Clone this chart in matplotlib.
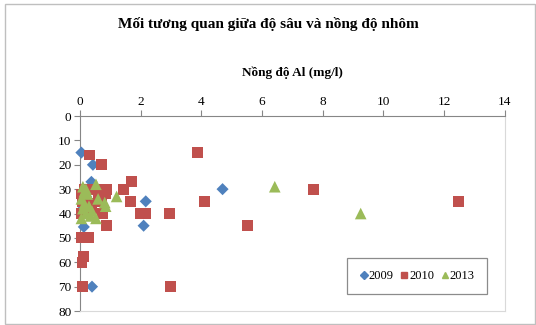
import matplotlib.pyplot as plt
from matplotlib.lines import Line2D

# Al concentration (mg/l) vs depth, three sampling years
al_2009 = [0.05, 0.43, 0.38, 0.13, 2.17, 2.1, 4.7, 0.4, 0.2, 0.1]
depth_2009 = [15, 20, 27, 45.5, 35, 45, 30, 70, 33, 38]

al_2010 = [0.33, 0.72, 1.71, 1.45, 1.68, 1.98, 2.17, 2.96, 3.88, 4.12,
           5.53, 7.68, 12.47, 0.88, 0.76, 0.88, 0.85, 0.05, 0.27, 0.13,
           0.07, 0.1, 2.98, 0.16, 0.05, 0.1, 0.2, 0.05, 0.5, 0.6,
           0.7, 0.4, 0.3]
depth_2010 = [16, 20, 27, 30, 35, 40, 40, 40, 15, 35,
              45, 30, 35, 45, 40, 30, 32, 50, 50, 57.5,
              60, 70, 70, 30, 32, 35, 38, 40, 30, 33,
              35, 38, 36]

al_2013 = [0.1, 0.2, 0.25, 0.05, 0.15, 0.3, 0.1, 0.2, 0.35, 0.05,
           0.53, 0.82, 0.85, 0.53, 1.21, 6.42, 9.25, 0.6, 0.4, 0.15]
depth_2013 = [29, 30, 32, 34, 36, 37, 38, 40, 41, 42,
              28, 35.5, 37, 42, 33, 29, 40, 34, 39, 31]

years = ['2009', '2010', '2013']
colors = ['#4F81BD', '#C0504D', '#9BBB59']
markers = ['D', 's', '^']
sizes = [38, 62, 70]

plt.rcParams['font.family'] = ['Liberation Serif', 'DejaVu Serif']

fig = plt.figure(figsize=(5.36, 3.25), dpi=100)
ax = fig.add_axes([0.149, 0.043, 0.793, 0.600])

series = [(al_2009, depth_2009), (al_2010, depth_2010), (al_2013, depth_2013)]
for (x, y), c, m, s in zip(series, colors, markers, sizes):
    ax.scatter(x, y, marker=m, s=s, color=c, edgecolors='none', zorder=3,
               clip_on=False)

ax.set_xlim(0, 14)
ax.set_ylim(80, 0)
ax.set_xticks(range(0, 15, 2))
ax.set_yticks(range(0, 81, 10))
ax.xaxis.tick_top()
ax.xaxis.set_label_position('top')
ax.tick_params(axis='both', labelsize=9.5, direction='out', length=4,
               color='#868686', pad=2)

for side in ['left', 'top']:
    ax.spines[side].set_color('#868686')
for side in ['right', 'bottom']:
    ax.spines[side].set_color('#d9d9d9')

ax.set_xlabel('Nồng độ Al (mg/l)', fontsize=9.5, fontweight='bold', labelpad=14)
fig.text(0.5, 0.925, 'Mối tương quan giữa độ sâu và nồng độ nhôm',
         ha='center', va='center', fontsize=11, fontweight='bold')

handles = [Line2D([0], [0], marker=m, color=c, linestyle='none', markersize=4.5)
           for c, m in zip(colors, markers)]
leg = ax.legend(handles, years, loc='lower left', ncol=3,
                bbox_to_anchor=(0.628, 0.087), fontsize=9, frameon=True,
                fancybox=False, borderpad=0.95, borderaxespad=0,
                handletextpad=0.0, handlelength=0.8, columnspacing=0.45)
leg.get_frame().set_edgecolor('#6e6e6e')
leg.get_frame().set_linewidth(0.9)

# outer chart border
fig.patches.append(plt.Rectangle((0.009, 0.004), 0.99, 0.985, transform=fig.transFigure,
                                 fill=False, edgecolor='#bfbfbf', linewidth=1.0))

fig.savefig('out.png', dpi=100)
